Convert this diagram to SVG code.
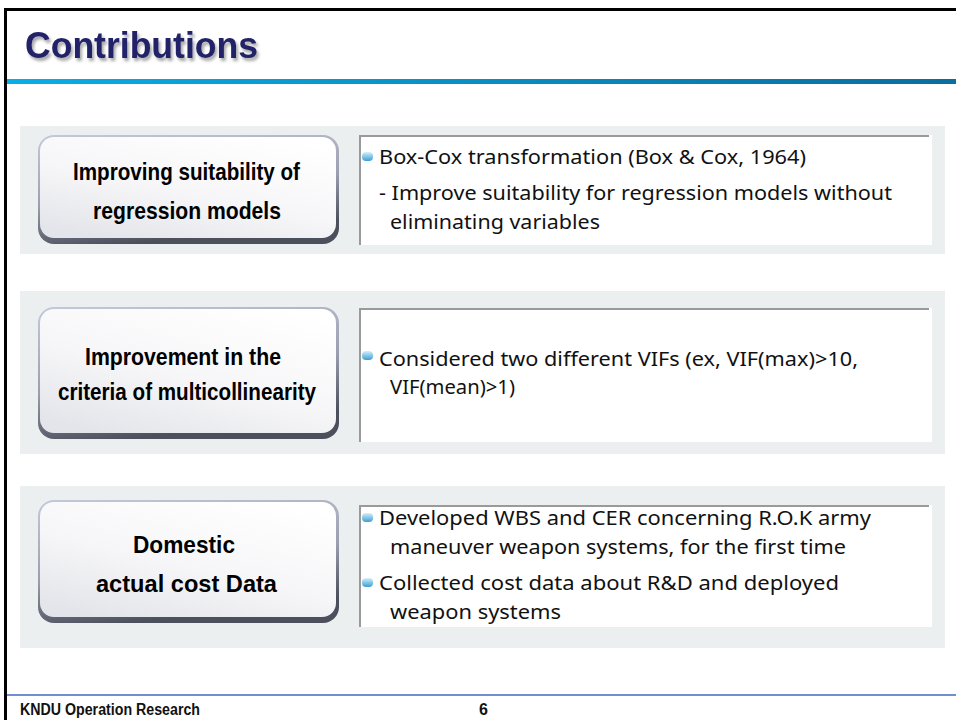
<svg xmlns="http://www.w3.org/2000/svg" width="956" height="720" viewBox="0 0 956 720">
  <defs>
    <linearGradient id="barGrad" x1="0" y1="0" x2="1" y2="0">
      <stop offset="0" stop-color="#08aee6"/>
      <stop offset="1" stop-color="#0a6e9e"/>
    </linearGradient>
    <linearGradient id="rimGrad" x1="0" y1="0" x2="0.3" y2="1">
      <stop offset="0" stop-color="#c4c8d8"/>
      <stop offset="0.6" stop-color="#9a9eae"/>
      <stop offset="1" stop-color="#4c4f5c"/>
    </linearGradient>
    <linearGradient id="faceGrad" x1="0.8" y1="0" x2="0.2" y2="1">
      <stop offset="0" stop-color="#ffffff"/>
      <stop offset="0.55" stop-color="#f6f6f8"/>
      <stop offset="1" stop-color="#e4e5ea"/>
    </linearGradient>
    <linearGradient id="bulletGrad" x1="0" y1="0" x2="0" y2="1">
      <stop offset="0" stop-color="#d4f0fb"/>
      <stop offset="1" stop-color="#3a9ed2"/>
    </linearGradient>
    <filter id="titleShadow" x="-5%" y="-20%" width="115%" height="150%">
      <feDropShadow dx="2" dy="3" stdDeviation="1.5" flood-color="#000000" flood-opacity="0.35"/>
    </filter>
    <g id="bullet">
      <rect x="0" y="0" width="11" height="9" rx="4" fill="url(#bulletGrad)"/>
    </g>
  </defs>
  <style>
    .title { font-family: "Liberation Sans", Arial, sans-serif; font-weight: bold; font-size: 37px; fill: #222268; }
    .panel { fill: #eceff0; }
    .card { fill: #ffffff; }
    .cardEdge { stroke: #9a9a9a; stroke-width: 2; fill: none; }
    .rim { fill: url(#rimGrad); }
    .face { fill: url(#faceGrad); }
    .label { font-family: "Liberation Sans", Arial, sans-serif; font-weight: bold; font-size: 24px; fill: #000000; text-anchor: start; }
    .body { font-family: "Noto Sans", "Liberation Sans", sans-serif; font-size: 20px; fill: #111111; }
    .foot { font-family: "Liberation Sans", Arial, sans-serif; font-weight: bold; font-size: 16px; fill: #111111; }
  </style>

  <!-- page background and frame -->
  <rect x="0" y="0" width="956" height="720" fill="#ffffff"/>
  <rect x="4" y="8" width="952" height="3" fill="#000000"/>
  <rect x="4" y="8" width="3" height="712" fill="#000000"/>

  <!-- heading -->
  <text class="title" x="25" y="58" textLength="233" lengthAdjust="spacingAndGlyphs" filter="url(#titleShadow)">Contributions</text>
  <rect x="7" y="79" width="949" height="5" fill="url(#barGrad)"/>

  <!-- row 1 -->
  <g id="row1">
    <rect class="panel" x="20" y="126" width="925" height="128"/>
    <g id="node1">
      <rect class="rim" x="38" y="135" width="301" height="109" rx="16"/>
      <rect class="face" x="40" y="137" width="296" height="101" rx="14"/>
      <text class="label" x="73" y="180" textLength="227" lengthAdjust="spacingAndGlyphs">Improving suitability of</text>
      <text class="label" x="93" y="219" textLength="188" lengthAdjust="spacingAndGlyphs">regression models</text>
    </g>
    <g id="detail1">
      <rect class="card" x="359" y="135" width="573" height="110"/>
      <path class="cardEdge" d="M360,245 V136 H929"/>
      <use href="#bullet" x="362" y="152"/>
      <text class="body" x="379" y="164" textLength="427" lengthAdjust="spacingAndGlyphs">Box-Cox transformation (Box &amp; Cox, 1964)</text>
      <text class="body" x="379" y="200" textLength="513" lengthAdjust="spacingAndGlyphs">- Improve suitability for regression models without</text>
      <text class="body" x="390" y="229" textLength="210" lengthAdjust="spacingAndGlyphs">eliminating variables</text>
    </g>
  </g>

  <!-- row 2 -->
  <g id="row2">
    <rect class="panel" x="20" y="291" width="925" height="163"/>
    <g id="node2">
      <rect class="rim" x="38" y="307" width="301" height="132" rx="16"/>
      <rect class="face" x="40" y="309" width="296" height="124" rx="14"/>
      <text class="label" x="85" y="365" textLength="196" lengthAdjust="spacingAndGlyphs">Improvement in the</text>
      <text class="label" x="58" y="400" textLength="258" lengthAdjust="spacingAndGlyphs">criteria of multicollinearity</text>
    </g>
    <g id="detail2">
      <rect class="card" x="359" y="308" width="573" height="134"/>
      <path class="cardEdge" d="M360,442 V309 H929"/>
      <use href="#bullet" x="362" y="351"/>
      <text class="body" x="379" y="366" textLength="479" lengthAdjust="spacingAndGlyphs">Considered two different VIFs (ex, VIF(max)&gt;10,</text>
      <text class="body" x="390" y="394" textLength="125" lengthAdjust="spacingAndGlyphs">VIF(mean)&gt;1)</text>
    </g>
  </g>

  <!-- row 3 -->
  <g id="row3">
    <rect class="panel" x="20" y="486" width="925" height="162"/>
    <g id="node3">
      <rect class="rim" x="38" y="500" width="301" height="123" rx="16"/>
      <rect class="face" x="40" y="502" width="296" height="115" rx="14"/>
      <text class="label" x="133" y="553" textLength="102" lengthAdjust="spacingAndGlyphs">Domestic</text>
      <text class="label" x="96" y="592" textLength="181" lengthAdjust="spacingAndGlyphs">actual cost Data</text>
    </g>
    <g id="detail3">
      <rect class="card" x="359" y="505" width="573" height="122"/>
      <path class="cardEdge" d="M360,627 V506 H929"/>
      <use href="#bullet" x="362" y="513"/>
      <text class="body" x="379" y="525" textLength="492" lengthAdjust="spacingAndGlyphs">Developed WBS and CER concerning R.O.K army</text>
      <text class="body" x="390" y="554" textLength="456" lengthAdjust="spacingAndGlyphs">maneuver weapon systems, for the first time</text>
      <use href="#bullet" x="362" y="578"/>
      <text class="body" x="379" y="590" textLength="460" lengthAdjust="spacingAndGlyphs">Collected cost data about R&amp;D and deployed</text>
      <text class="body" x="390" y="619" textLength="171" lengthAdjust="spacingAndGlyphs">weapon systems</text>
    </g>
  </g>

  <!-- footer -->
  <rect x="7" y="694" width="949" height="2" fill="#6f8fd0"/>
  <text class="foot" x="20" y="715" textLength="180" lengthAdjust="spacingAndGlyphs">KNDU Operation Research</text>
  <text class="foot" x="479" y="715">6</text>
</svg>
